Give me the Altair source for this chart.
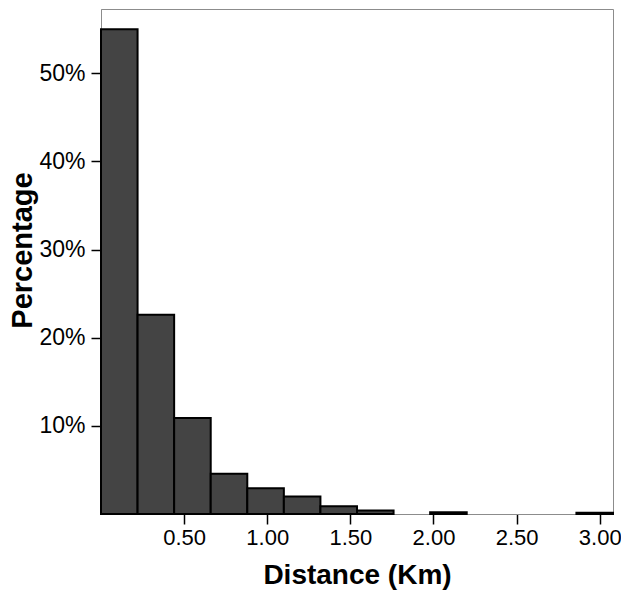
import altair as alt
import pandas as pd

# Histogram bins (km) and percentage of cases per bin (empty bins omitted)
bin_start = [0.00, 0.22, 0.44, 0.66, 0.88, 1.10, 1.32, 1.54, 1.98, 2.86]
bin_end = [0.22, 0.44, 0.66, 0.88, 1.10, 1.32, 1.54, 1.76, 2.20, 3.08]
percent = [55.0, 22.6, 10.9, 4.56, 2.93, 1.99, 0.89, 0.40, 0.20, 0.15]

x_ticks = [0.5, 1.0, 1.5, 2.0, 2.5, 3.0]
y_ticks = [10, 20, 30, 40, 50]

df = pd.DataFrame({"start": bin_start, "end": bin_end, "pct": percent})

FONT = "Liberation Sans"

chart = (
    alt.Chart(df)
    .mark_bar(color="#444444", stroke="black", strokeWidth=2, binSpacing=0)
    .encode(
        x=alt.X(
            "start:Q",
            scale=alt.Scale(domain=[0, 3.08], nice=False, zero=False),
            axis=alt.Axis(
                values=x_ticks,
                format=".2f",
                title="Distance (Km)",
                labelPadding=3,
                labelFontSize=22,
                titlePadding=13,
                titleFontSize=28,
            ),
        ),
        x2="end:Q",
        y=alt.Y(
            "pct:Q",
            scale=alt.Scale(domain=[0, 57.3], nice=False),
            axis=alt.Axis(
                values=y_ticks,
                labelExpr="datum.value + '%'",
                title="Percentage",
                labelPadding=6,
                labelFontSize=23,
                titlePadding=1,
                titleY=241,
                titleFontSize=29,
            ),
        ),
        y2=alt.datum(0),
    )
    .properties(
        width=512,
        height=505,
        autosize=alt.AutoSizeParams(type="none"),
        padding={"left": 93, "top": 1, "right": 8, "bottom": 76},
    )
    .configure_view(stroke="#8c8c8c", strokeWidth=1)
    .configure_axis(
        grid=False,
        domainColor="#8c8c8c",
        domainWidth=1,
        tickColor="black",
        tickSize=10,
        tickWidth=1.5,
        labelFont=FONT,
        labelColor="black",
        titleFont=FONT,
        titleFontWeight="bold",
        titleColor="black",
    )
)

chart.save("out.html", embed_options={"renderer": "svg", "actions": False})
